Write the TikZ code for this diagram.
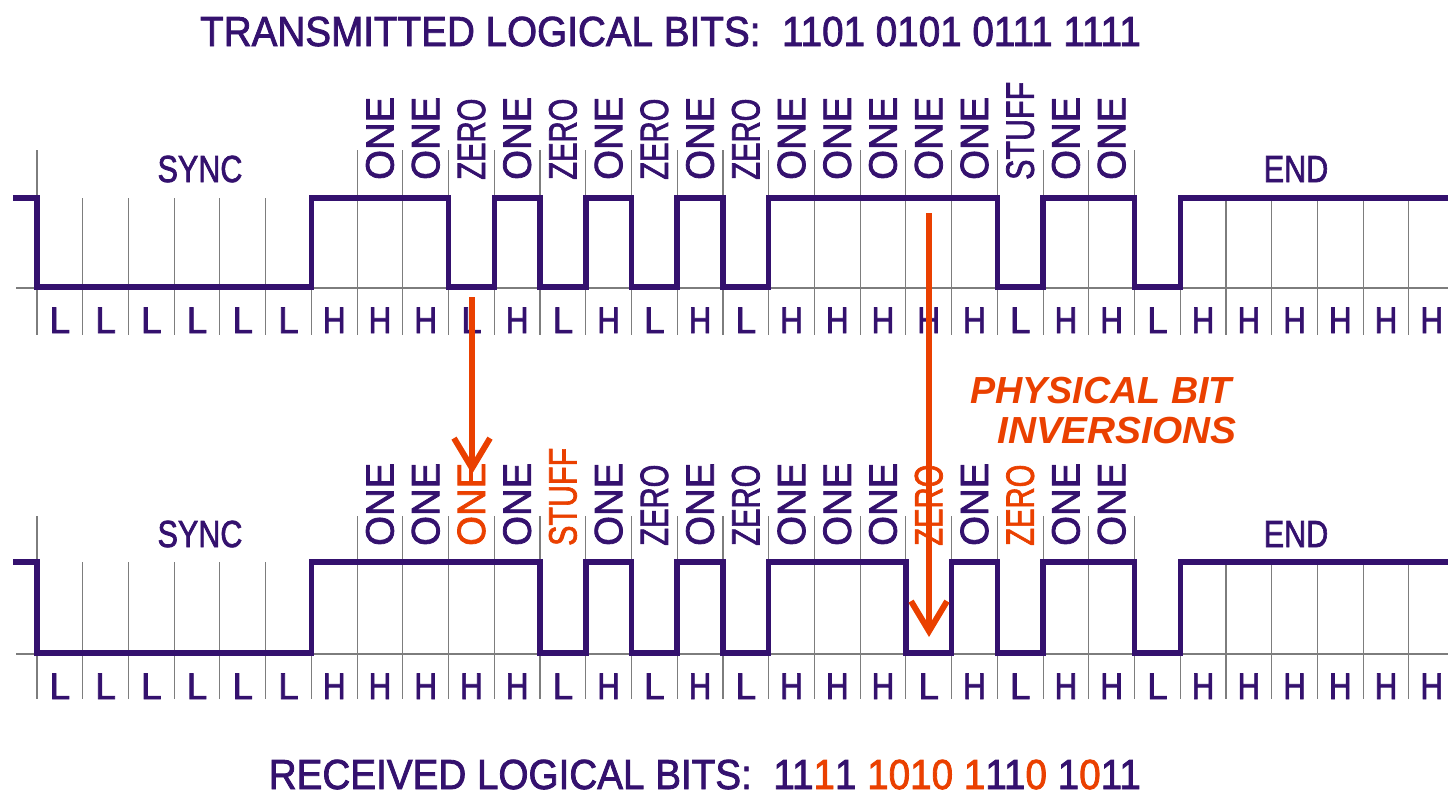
\documentclass[tikz,border=0pt]{standalone}
\usepackage{fontspec}
\setmainfont{Liberation Sans}
\newfontfamily\labfont{Liberation Sans}[FakeBold=2]
\usepackage{graphicx}
\usetikzlibrary{arrows.meta}
\definecolor{pu}{RGB}{52,17,110}
\definecolor{orn}{RGB}{234,64,0}
\definecolor{gridc}{RGB}{125,125,125}
\newcommand\sx[2]{\scalebox{#1}[1]{#2}}
\def\scONE{0.97}\def\scZERO{0.74}\def\scSTUFF{0.77}
\newcommand\word[1]{\scalebox{\csname sc#1\endcsname}[1]{#1}}
\def\lvL{L}\def\lvH{\scalebox{0.85}[1]{H}}
\begin{document}
\begin{tikzpicture}[x=1pt,y=-1pt,
  declare function={bx(\i)=37+45.73*\i;},
  wave/.style={draw=pu,line width=5.5pt},
  gridline/.style={draw=gridc,line width=1.1pt},
  bitlab/.style={text=pu,font=\labfont\fontsize{37}{40}\selectfont,inner sep=0pt,anchor=base},
  seglab/.style={font=\labfont\fontsize{39.5}{42}\selectfont,inner sep=0pt,rotate=90,anchor=west},
  framelab/.style={text=pu,font=\labfont\fontsize{37.7}{40}\selectfont,inner sep=0pt,anchor=base},
  titlelab/.style={text=pu,font=\labfont\fontsize{42}{46}\selectfont,inner sep=0pt,anchor=base east},
  inv/.style={text=orn,font=\fontsize{37.7}{40}\selectfont\bfseries\itshape,inner sep=0pt,anchor=base west},
  flip/.style={draw=orn,line width=6pt,-{Straight Barb[length=30pt,width=36pt]}}
]
\useasboundingbox (0,0) rectangle (1448,793);

% titles
\node[titlelab] (ttitle) at (1141,46) {\sx{0.92}{TRANSMITTED LOGICAL BITS: \ 1101 0101 0111 1111}};
\node[titlelab] (rtitle) at (1141,789) {\sx{0.92}{RECEIVED LOGICAL BITS: \ 11\textcolor{orn}{1}1 \textcolor{orn}{1010} \textcolor{orn}{1}11\textcolor{orn}{0} 1\textcolor{orn}{0}11}};

% ---------- top (transmitted) ----------
\draw[gridline] (16,288) -- (1448,288);
\foreach \i in {0,7,8,...,24} \draw[gridline] ({bx(\i)},150) -- ({bx(\i)},335);
\foreach \i in {1,...,6,25,26,...,30} \draw[gridline] ({bx(\i)},198) -- ({bx(\i)},335);
\draw[wave] (13,198) -| ({bx(0)},287) -| ({bx(6)},198) -| ({bx(9)},287) -| ({bx(10)},198)
  -| ({bx(11)},287) -| ({bx(12)},198) -| ({bx(13)},287) -| ({bx(14)},198) -| ({bx(15)},287)
  -| ({bx(16)},198) -| ({bx(21)},287) -| ({bx(22)},198) -| ({bx(24)},287) -| ({bx(25)},198) -- (1460,198);
\foreach \lv [count=\i from 0] in {L,L,L,L,L,L,H,H,H,L,H,L,H,L,H,L,H,H,H,H,H,L,H,H,L,H,H,H,H,H,H}
  \node[bitlab] (tb\i) at ({bx(\i)+22.87},333) {\csname lv\lv\endcsname};
\foreach \i/\w in {7/ONE,8/ONE,9/ZERO,10/ONE,11/ZERO,12/ONE,13/ZERO,14/ONE,15/ZERO,16/ONE,17/ONE,18/ONE,19/ONE,20/ONE,21/STUFF,22/ONE,23/ONE}
  \node[seglab,text=pu] (ts\i) at ({bx(\i)+22.87},180) {\word{\w}};
\node[framelab] (tsync) at (200,182) {\sx{0.81}{SYNC}};
\node[framelab] (tend) at (1296,182) {\sx{0.81}{END}};

% ---------- bottom (received) ----------
\draw[gridline] (16,654) -- (1448,654);
\foreach \i in {0,7,8,...,24} \draw[gridline] ({bx(\i)},516) -- ({bx(\i)},699);
\foreach \i in {1,...,6,25,26,...,30} \draw[gridline] ({bx(\i)},562) -- ({bx(\i)},699);
\draw[wave] (13,562) -| ({bx(0)},653) -| ({bx(6)},562) -| ({bx(11)},653) -| ({bx(12)},562)
  -| ({bx(13)},653) -| ({bx(14)},562) -| ({bx(15)},653) -| ({bx(16)},562) -| ({bx(19)},653)
  -| ({bx(20)},562) -| ({bx(21)},653) -| ({bx(22)},562) -| ({bx(24)},653) -| ({bx(25)},562) -- (1460,562);
\foreach \lv [count=\i from 0] in {L,L,L,L,L,L,H,H,H,H,H,L,H,L,H,L,H,H,H,L,H,L,H,H,L,H,H,H,H,H,H}
  \node[bitlab] (bb\i) at ({bx(\i)+22.87},699) {\csname lv\lv\endcsname};
\foreach \i/\w/\c in {7/ONE/pu,8/ONE/pu,9/ONE/orn,10/ONE/pu,11/STUFF/orn,12/ONE/pu,13/ZERO/pu,14/ONE/pu,15/ZERO/pu,16/ONE/pu,17/ONE/pu,18/ONE/pu,19/ZERO/orn,20/ONE/pu,21/ZERO/orn,22/ONE/pu,23/ONE/pu}
  \node[seglab,text=\c] (bs\i) at ({bx(\i)+22.87},546) {\word{\w}};
\node[framelab] (bsync) at (200,547) {\sx{0.81}{SYNC}};
\node[framelab] (bend) at (1296,547) {\sx{0.81}{END}};

% ---------- inversions ----------
\node[inv] (inv1) at (970,403) {PHYSICAL BIT};
\node[inv] (inv2) at (997,443) {\sx{1.03}{INVERSIONS}};
\coordinate (a1s) at (472,297);
\coordinate (a1e) at (472,474);
\coordinate (a2s) at (929,213);
\coordinate (a2e) at (929,637);
\draw[flip] (a1s) -- (a1e);
\draw[flip] (a2s) -- (a2e);
\end{tikzpicture}
\end{document}
